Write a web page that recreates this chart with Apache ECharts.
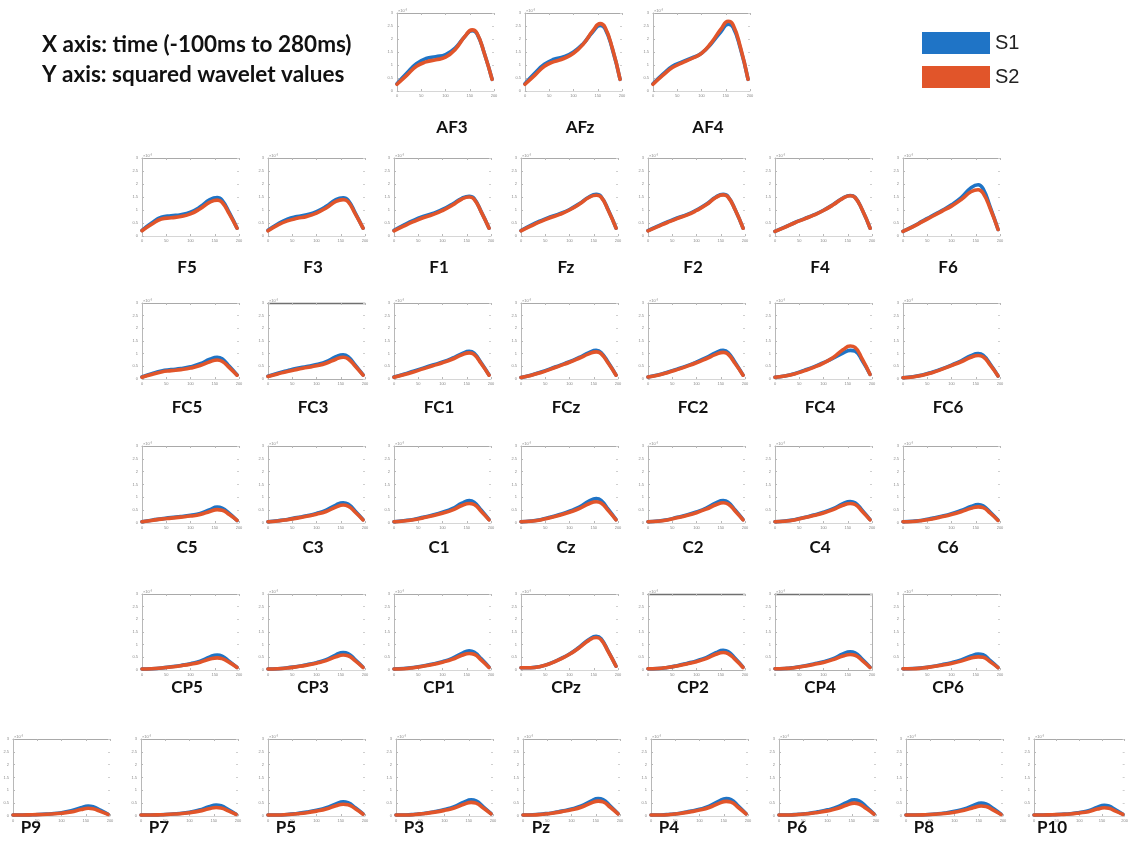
<!DOCTYPE html>
<html>
<head>
<meta charset="utf-8">
<script src="https://cdn.jsdelivr.net/npm/echarts@6/dist/echarts.min.js"></script>
<style>
  html, body { margin: 0; padding: 0; background: #ffffff; }
  #chart { width: 1131px; height: 859px; }
</style>
</head>
<body>
<div id="chart"></div>
<script>
// Sample positions along the epoch (x axis), shared by every channel
const timeSamples = [0, 20, 40, 60, 80, 100, 120, 140, 155, 165, 180, 196];
const xTicks = [0, 50, 100, 150, 200];
const yTicks = [0, 0.5, 1, 1.5, 2, 2.5, 3];
const seriesNames = ['S1', 'S2'];

// Anterior-frontal channels
const afChannels = ['AF3', 'AFz', 'AF4'];
const afS1 = [
  [0.28, 0.68, 1.05, 1.25, 1.32, 1.40, 1.65, 2.10, 2.32, 2.20, 1.45, 0.45],
  [0.28, 0.68, 1.03, 1.22, 1.32, 1.50, 1.82, 2.28, 2.52, 2.40, 1.62, 0.45],
  [0.28, 0.64, 0.95, 1.12, 1.27, 1.45, 1.82, 2.28, 2.57, 2.45, 1.65, 0.45]
];
const afS2 = [
  [0.26, 0.60, 0.95, 1.12, 1.20, 1.30, 1.60, 2.10, 2.35, 2.22, 1.45, 0.45],
  [0.26, 0.60, 0.95, 1.13, 1.25, 1.45, 1.80, 2.32, 2.59, 2.45, 1.65, 0.45],
  [0.26, 0.60, 0.90, 1.08, 1.25, 1.45, 1.85, 2.38, 2.68, 2.55, 1.70, 0.45]
];

// Frontal channels
const fChannels = ['F5', 'F3', 'F1', 'Fz', 'F2', 'F4', 'F6'];
const fS1 = [
  [0.22, 0.50, 0.72, 0.78, 0.82, 0.92, 1.12, 1.40, 1.48, 1.38, 0.90, 0.30],
  [0.22, 0.46, 0.65, 0.75, 0.82, 0.94, 1.14, 1.40, 1.47, 1.38, 0.88, 0.30],
  [0.22, 0.42, 0.60, 0.75, 0.87, 1.02, 1.22, 1.45, 1.53, 1.45, 0.93, 0.30],
  [0.21, 0.41, 0.58, 0.73, 0.86, 1.02, 1.24, 1.50, 1.60, 1.52, 1.00, 0.30],
  [0.21, 0.38, 0.54, 0.69, 0.82, 1.00, 1.22, 1.50, 1.60, 1.52, 1.00, 0.30],
  [0.18, 0.34, 0.51, 0.66, 0.81, 0.99, 1.21, 1.46, 1.56, 1.49, 1.00, 0.30],
  [0.18, 0.36, 0.57, 0.78, 0.98, 1.20, 1.48, 1.85, 1.97, 1.82, 1.10, 0.25]
];
const fS2 = [
  [0.20, 0.45, 0.65, 0.70, 0.75, 0.85, 1.05, 1.30, 1.38, 1.30, 0.85, 0.30],
  [0.20, 0.42, 0.58, 0.68, 0.75, 0.88, 1.08, 1.33, 1.40, 1.32, 0.85, 0.30],
  [0.20, 0.38, 0.55, 0.70, 0.82, 0.98, 1.18, 1.42, 1.50, 1.42, 0.92, 0.30],
  [0.20, 0.38, 0.55, 0.70, 0.83, 1.00, 1.22, 1.48, 1.57, 1.50, 0.98, 0.30],
  [0.20, 0.36, 0.52, 0.67, 0.80, 0.98, 1.20, 1.48, 1.58, 1.50, 1.00, 0.30],
  [0.18, 0.33, 0.50, 0.65, 0.80, 0.98, 1.20, 1.45, 1.55, 1.48, 1.00, 0.30],
  [0.18, 0.35, 0.55, 0.75, 0.95, 1.15, 1.40, 1.70, 1.78, 1.65, 1.05, 0.25]
];

// Fronto-central channels
const fcChannels = ['FC5', 'FC3', 'FC1', 'FCz', 'FC2', 'FC4', 'FC6'];
const fcS1 = [
  [0.08, 0.21, 0.32, 0.37, 0.41, 0.48, 0.60, 0.78, 0.86, 0.80, 0.50, 0.16],
  [0.11, 0.23, 0.33, 0.42, 0.49, 0.57, 0.68, 0.88, 0.96, 0.88, 0.55, 0.16],
  [0.08, 0.19, 0.31, 0.43, 0.55, 0.67, 0.82, 1.00, 1.09, 1.02, 0.63, 0.16],
  [0.06, 0.15, 0.27, 0.40, 0.54, 0.68, 0.85, 1.04, 1.13, 1.05, 0.65, 0.15],
  [0.08, 0.16, 0.27, 0.39, 0.52, 0.67, 0.84, 1.04, 1.13, 1.05, 0.64, 0.15],
  [0.07, 0.12, 0.21, 0.34, 0.48, 0.65, 0.82, 1.02, 1.13, 1.10, 0.72, 0.18],
  [0.05, 0.09, 0.16, 0.27, 0.40, 0.55, 0.72, 0.92, 1.00, 0.94, 0.58, 0.12]
];
const fcS2 = [
  [0.07, 0.18, 0.28, 0.33, 0.37, 0.43, 0.53, 0.68, 0.75, 0.70, 0.45, 0.15],
  [0.10, 0.20, 0.30, 0.38, 0.45, 0.52, 0.62, 0.78, 0.86, 0.80, 0.50, 0.15],
  [0.07, 0.17, 0.28, 0.40, 0.52, 0.64, 0.78, 0.95, 1.03, 0.97, 0.60, 0.15],
  [0.06, 0.14, 0.25, 0.38, 0.52, 0.66, 0.82, 0.99, 1.07, 1.00, 0.62, 0.15],
  [0.08, 0.15, 0.25, 0.37, 0.50, 0.64, 0.80, 0.97, 1.05, 0.98, 0.60, 0.15],
  [0.07, 0.12, 0.20, 0.32, 0.46, 0.63, 0.85, 1.15, 1.30, 1.25, 0.78, 0.18],
  [0.05, 0.08, 0.15, 0.25, 0.38, 0.53, 0.68, 0.86, 0.93, 0.88, 0.55, 0.12]
];

// Central channels
const cChannels = ['C5', 'C3', 'C1', 'Cz', 'C2', 'C4', 'C6'];
const cS1 = [
  [0.05, 0.11, 0.16, 0.21, 0.25, 0.30, 0.37, 0.52, 0.62, 0.58, 0.37, 0.10],
  [0.05, 0.09, 0.14, 0.21, 0.28, 0.37, 0.50, 0.70, 0.79, 0.74, 0.46, 0.13],
  [0.05, 0.09, 0.14, 0.22, 0.31, 0.42, 0.56, 0.77, 0.87, 0.81, 0.50, 0.13],
  [0.05, 0.08, 0.13, 0.22, 0.33, 0.46, 0.62, 0.85, 0.95, 0.88, 0.53, 0.13],
  [0.05, 0.08, 0.13, 0.22, 0.31, 0.43, 0.58, 0.78, 0.87, 0.81, 0.50, 0.13],
  [0.05, 0.08, 0.13, 0.21, 0.31, 0.42, 0.56, 0.75, 0.84, 0.79, 0.49, 0.13],
  [0.05, 0.07, 0.11, 0.18, 0.26, 0.36, 0.49, 0.64, 0.72, 0.67, 0.42, 0.11]
];
const cS2 = [
  [0.05, 0.10, 0.15, 0.19, 0.23, 0.27, 0.33, 0.45, 0.52, 0.50, 0.33, 0.10],
  [0.05, 0.08, 0.13, 0.19, 0.26, 0.34, 0.45, 0.62, 0.70, 0.66, 0.42, 0.12],
  [0.05, 0.08, 0.13, 0.20, 0.28, 0.38, 0.50, 0.68, 0.76, 0.72, 0.45, 0.12],
  [0.05, 0.07, 0.12, 0.20, 0.30, 0.42, 0.56, 0.75, 0.83, 0.78, 0.48, 0.12],
  [0.05, 0.07, 0.12, 0.20, 0.29, 0.40, 0.54, 0.71, 0.79, 0.74, 0.46, 0.12],
  [0.05, 0.07, 0.12, 0.20, 0.29, 0.39, 0.52, 0.69, 0.76, 0.72, 0.45, 0.12],
  [0.05, 0.06, 0.10, 0.16, 0.24, 0.33, 0.44, 0.57, 0.63, 0.60, 0.38, 0.10]
];

// Centro-parietal channels
const cpChannels = ['CP5', 'CP3', 'CP1', 'CPz', 'CP2', 'CP4', 'CP6'];
const cpS1 = [
  [0.04, 0.05, 0.08, 0.13, 0.18, 0.25, 0.35, 0.52, 0.59, 0.55, 0.34, 0.10],
  [0.04, 0.05, 0.09, 0.14, 0.21, 0.29, 0.41, 0.60, 0.69, 0.65, 0.40, 0.11],
  [0.04, 0.06, 0.10, 0.16, 0.24, 0.33, 0.46, 0.66, 0.76, 0.71, 0.44, 0.11],
  [0.09, 0.09, 0.14, 0.26, 0.43, 0.63, 0.90, 1.20, 1.33, 1.24, 0.74, 0.15],
  [0.05, 0.06, 0.10, 0.17, 0.26, 0.36, 0.49, 0.68, 0.78, 0.73, 0.45, 0.11],
  [0.05, 0.06, 0.10, 0.16, 0.24, 0.33, 0.45, 0.63, 0.72, 0.68, 0.42, 0.11],
  [0.05, 0.06, 0.09, 0.14, 0.21, 0.29, 0.40, 0.55, 0.63, 0.60, 0.37, 0.10]
];
const cpS2 = [
  [0.04, 0.05, 0.08, 0.12, 0.17, 0.23, 0.31, 0.43, 0.48, 0.45, 0.30, 0.10],
  [0.04, 0.05, 0.08, 0.13, 0.19, 0.27, 0.37, 0.52, 0.59, 0.56, 0.36, 0.10],
  [0.04, 0.05, 0.09, 0.15, 0.22, 0.31, 0.42, 0.58, 0.65, 0.62, 0.39, 0.10],
  [0.09, 0.09, 0.14, 0.25, 0.42, 0.62, 0.88, 1.17, 1.28, 1.20, 0.72, 0.15],
  [0.05, 0.06, 0.10, 0.16, 0.24, 0.33, 0.45, 0.62, 0.69, 0.65, 0.41, 0.10],
  [0.05, 0.06, 0.09, 0.15, 0.22, 0.30, 0.41, 0.55, 0.61, 0.58, 0.37, 0.10],
  [0.05, 0.05, 0.08, 0.13, 0.19, 0.26, 0.35, 0.47, 0.52, 0.50, 0.32, 0.09]
];

// Parietal channels
const pChannels = ['P9', 'P7', 'P5', 'P3', 'Pz', 'P4', 'P6', 'P8', 'P10'];
const pS1 = [
  [0.04, 0.04, 0.05, 0.07, 0.09, 0.13, 0.20, 0.32, 0.39, 0.36, 0.23, 0.07],
  [0.04, 0.04, 0.05, 0.07, 0.10, 0.15, 0.23, 0.36, 0.43, 0.40, 0.25, 0.07],
  [0.04, 0.04, 0.06, 0.10, 0.15, 0.22, 0.32, 0.47, 0.55, 0.52, 0.32, 0.08],
  [0.04, 0.04, 0.07, 0.11, 0.17, 0.25, 0.36, 0.54, 0.63, 0.59, 0.36, 0.09],
  [0.04, 0.05, 0.08, 0.12, 0.19, 0.27, 0.39, 0.58, 0.68, 0.64, 0.39, 0.09],
  [0.04, 0.04, 0.07, 0.11, 0.18, 0.26, 0.38, 0.58, 0.68, 0.64, 0.39, 0.09],
  [0.04, 0.04, 0.07, 0.10, 0.16, 0.24, 0.35, 0.53, 0.63, 0.59, 0.36, 0.08],
  [0.04, 0.04, 0.05, 0.08, 0.12, 0.18, 0.27, 0.42, 0.50, 0.47, 0.29, 0.07],
  [0.04, 0.04, 0.05, 0.07, 0.09, 0.14, 0.21, 0.34, 0.42, 0.39, 0.24, 0.07]
];
const pS2 = [
  [0.04, 0.04, 0.05, 0.06, 0.08, 0.11, 0.16, 0.25, 0.30, 0.28, 0.18, 0.06],
  [0.04, 0.04, 0.05, 0.07, 0.09, 0.13, 0.19, 0.28, 0.33, 0.31, 0.20, 0.06],
  [0.04, 0.04, 0.06, 0.09, 0.13, 0.19, 0.27, 0.40, 0.46, 0.44, 0.28, 0.07],
  [0.04, 0.04, 0.06, 0.10, 0.15, 0.22, 0.31, 0.46, 0.53, 0.50, 0.31, 0.08],
  [0.04, 0.04, 0.07, 0.11, 0.17, 0.24, 0.34, 0.50, 0.58, 0.55, 0.34, 0.08],
  [0.04, 0.04, 0.06, 0.10, 0.16, 0.23, 0.33, 0.49, 0.57, 0.54, 0.33, 0.08],
  [0.04, 0.04, 0.06, 0.09, 0.14, 0.20, 0.29, 0.43, 0.50, 0.47, 0.29, 0.07],
  [0.04, 0.04, 0.05, 0.07, 0.10, 0.15, 0.22, 0.33, 0.39, 0.37, 0.23, 0.06],
  [0.04, 0.04, 0.05, 0.06, 0.08, 0.12, 0.17, 0.27, 0.32, 0.30, 0.19, 0.06]
];

// ---- layout of the montage (pixel positions of each row of panels) ----
const COLOR_S1 = '#1f74c6';
const COLOR_S2 = '#e1552a';
const PANEL_W = 97;
const LABEL_FONT = 'bold 17px Lato, "Open Sans", sans-serif';
// panels exported with a heavier frame
const darkFramePanels = ['FC3', 'CP2', 'CP4'];
const boxedPanels = ['CP4'];

const rows = [
  { channels: afChannels, s1: afS1, s2: afS2, top: 13,  height: 78, lefts: [397, 525, 653], labelY: 128, labelDx: 55 },
  { channels: fChannels,  s1: fS1,  s2: fS2,  top: 158, height: 78, lefts: [142, 268, 394, 521, 648, 775, 903], labelY: 268, labelDx: 45 },
  { channels: fcChannels, s1: fcS1, s2: fcS2, top: 303, height: 76, lefts: [142, 268, 394, 521, 648, 775, 903], labelY: 408, labelDx: 45 },
  { channels: cChannels,  s1: cS1,  s2: cS2,  top: 446, height: 77, lefts: [142, 268, 394, 521, 648, 775, 903], labelY: 548, labelDx: 45 },
  { channels: cpChannels, s1: cpS1, s2: cpS2, top: 594, height: 76, lefts: [142, 268, 394, 521, 648, 775, 903], labelY: 688, labelDx: 45 },
  { channels: pChannels,  s1: pS1,  s2: pS2,  top: 739, height: 77, lefts: [13, 141, 268, 396, 523, 651, 779, 906, 1034], labelY: 828, labelDx: 18 }
];

const axisGray = '#b8b8b8';
const tickLabelStyle = { fontSize: 4, color: '#8a8a8a', fontFamily: 'Liberation Sans, Arial, sans-serif' };

const grids = [], xAxes = [], yAxes = [], series = [], graphics = [];

rows.forEach(row => {
  row.channels.forEach((channel, i) => {
    const g = grids.length;
    const left = row.lefts[i];
    const dark = darkFramePanels.includes(channel);
    const boxed = boxedPanels.includes(channel);
    grids.push({ left: left, top: row.top, width: PANEL_W, height: row.height, containLabel: false });

    // bottom axis with tick labels
    xAxes.push({
      gridIndex: g, type: 'value', position: 'bottom',
      min: xTicks[0], max: xTicks[xTicks.length - 1], interval: xTicks[1] - xTicks[0],
      axisLine: { show: true, onZero: false, lineStyle: { color: dark ? '#b0b0b0' : '#d6d6d6', width: 1 } },
      axisTick: { show: true, inside: true, length: 2, lineStyle: { color: axisGray } },
      axisLabel: Object.assign({ margin: 3 }, tickLabelStyle),
      splitLine: { show: false }
    });
    // top frame line
    xAxes.push({
      gridIndex: g, type: 'value', position: 'top',
      min: xTicks[0], max: xTicks[xTicks.length - 1], interval: xTicks[1] - xTicks[0],
      axisLine: { show: true, onZero: false, lineStyle: { color: dark ? '#707070' : '#a9a9a9', width: dark ? 1.3 : 1 } },
      axisTick: { show: true, inside: true, length: 2, lineStyle: { color: axisGray } },
      axisLabel: { show: false },
      splitLine: { show: false }
    });
    // left axis with tick labels
    yAxes.push({
      gridIndex: g, type: 'value', position: 'left',
      min: yTicks[0], max: yTicks[yTicks.length - 1], interval: yTicks[1] - yTicks[0],
      axisLine: { show: true, onZero: false, lineStyle: { color: axisGray, width: 1 } },
      axisTick: { show: true, inside: true, length: 2, lineStyle: { color: axisGray } },
      axisLabel: Object.assign({ margin: 4 }, tickLabelStyle),
      splitLine: { show: false }
    });
    // right side ticks (and frame line on boxed panels)
    yAxes.push({
      gridIndex: g, type: 'value', position: 'right',
      min: yTicks[0], max: yTicks[yTicks.length - 1], interval: yTicks[1] - yTicks[0],
      axisLine: { show: boxed, onZero: false, lineStyle: { color: '#b0b0b0', width: 1 } },
      axisTick: { show: true, inside: true, length: 2, lineStyle: { color: '#cfcfcf' } },
      axisLabel: { show: false },
      splitLine: { show: false }
    });

    const xi = xAxes.length - 2;
    const yi = yAxes.length - 2;
    [row.s1[i], row.s2[i]].forEach((values, k) => {
      series.push({
        name: seriesNames[k],
        type: 'line',
        xAxisIndex: xi, yAxisIndex: yi,
        data: timeSamples.map((t, j) => [t, values[j]]),
        smooth: 0.5,
        showSymbol: false,
        silent: true,
        lineStyle: { color: k === 0 ? COLOR_S1 : COLOR_S2, width: 3.6, cap: 'round', join: 'round' },
        itemStyle: { color: k === 0 ? COLOR_S1 : COLOR_S2 },
        z: 2 + k
      });
    });

    // axis multiplier above the y axis
    graphics.push({
      type: 'text', left: left + 1, top: row.top - 4,
      style: { text: '×10⁻³', font: '4px Liberation Sans, Arial, sans-serif', fill: '#8a8a8a' }
    });
    // channel name under the panel
    graphics.push({
      type: 'text', x: left + row.labelDx, y: row.labelY,
      style: { text: channel, font: LABEL_FONT, fill: '#111111', align: 'center', verticalAlign: 'middle' }
    });
  });
});

// description of the axes, top left
const HEADER_FONT = 'bold 22.5px Lato, "Open Sans", sans-serif';
graphics.push({
  type: 'text', x: 42, y: 45,
  style: { text: 'X axis: time (-100ms to 280ms)', font: HEADER_FONT, fill: '#111111', verticalAlign: 'middle' }
});
graphics.push({
  type: 'text', x: 42, y: 75,
  style: { text: 'Y axis: squared wavelet values', font: HEADER_FONT, fill: '#111111', verticalAlign: 'middle' }
});

const chart = echarts.init(document.getElementById('chart'), null, { renderer: 'canvas' });
chart.setOption({
  backgroundColor: '#ffffff',
  animation: false,
  legend: {
    data: seriesNames.map(n => ({ name: n, icon: 'rect' })),
    orient: 'vertical',
    left: 922, top: 32,
    padding: 0,
    itemWidth: 68, itemHeight: 22, itemGap: 12,
    selectedMode: false,
    textStyle: { fontSize: 20, color: '#222222', fontFamily: 'Liberation Sans, Arial, sans-serif' }
  },
  grid: grids,
  xAxis: xAxes,
  yAxis: yAxes,
  series: series,
  graphic: graphics
});
</script>
</body>
</html>
